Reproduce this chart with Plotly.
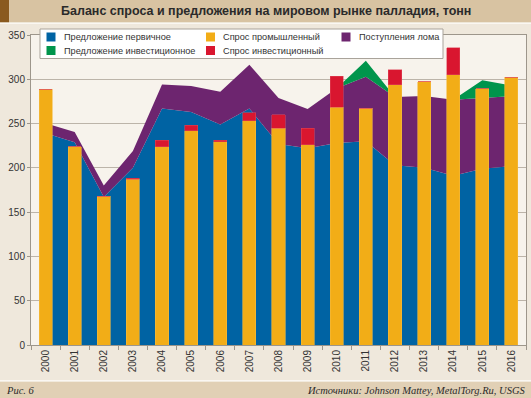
import plotly.graph_objects as go

# ---------------- data (tonnes) ----------------
years = ["2000", "2001", "2002", "2003", "2004", "2005", "2006", "2007", "2008",
         "2009", "2010", "2011", "2012", "2013", "2014", "2015", "2016"]
primary_supply = [239, 229, 167, 200, 267, 263, 249, 267, 227, 222, 228, 230, 203, 200, 191, 199, 202]
scrap_supply = [11.5, 11.5, 13, 19, 27, 29.5, 37, 49.5, 52, 44.5, 62, 73, 77, 81, 86, 80, 79]
investment_supply = [0, 0, 0, 0, 0, 0, 0, 0, 0, 0, 0, 18, 0, 0, 0, 20, 12]
industrial_demand = [289, 224, 168, 187, 224, 242, 229.5, 253, 245, 226, 268.5, 267.5, 294, 297.5, 305, 289.5, 302.5]
investment_demand = [0, 0, 0, 1.5, 7, 6, 1.5, 9.5, 15, 19, 35, 0, 16.5, 0, 30.5, 0, 0]

legend_names = ["Предложение первичное", "Предложение инвестиционное",
                "Спрос промышленный", "Спрос инвестиционный", "Поступления лома"]
title_text = "Баланс спроса и предложения на мировом рынке палладия, тонн"
fig_label = "Рис. 6"
source_text = "Источники: Johnson Mattey, MetalTorg.Ru, USGS"

# ---------------- style ----------------
BLUE = "#0063a3"
GREEN = "#00954c"
ORANGE = "#f2ad17"
RED = "#d9162f"
PURPLE = "#6d256f"
PAGE_BG = "#efe8dc"
PLOT_BG = "#f7f3ec"
GRID = "#bcb4a9"
AXIS = "#9d968b"
TXT = "#333333"

W, H = 531, 398
L, R, T, B = 31, 5, 35, 53
PW, PH = W - L - R, H - T - B


def px(x):
    return (x - L) / PW


def py(y):
    return (H - B - y) / PH


fig = go.Figure()

# supply areas (main axes, drawn below the bars)
fig.add_trace(go.Scatter(x=years, y=primary_supply, name=legend_names[0], stackgroup="s",
                         mode="lines", line=dict(width=0, color=BLUE), fillcolor=BLUE,
                         showlegend=False, xaxis="x", yaxis="y"))
fig.add_trace(go.Scatter(x=years, y=scrap_supply, name=legend_names[4], stackgroup="s",
                         mode="lines", line=dict(width=0, color=PURPLE), fillcolor=PURPLE,
                         showlegend=False, xaxis="x", yaxis="y"))
fig.add_trace(go.Scatter(x=years, y=investment_supply, name=legend_names[1], stackgroup="s",
                         mode="lines", line=dict(width=0, color=GREEN), fillcolor=GREEN,
                         showlegend=False, xaxis="x", yaxis="y"))

# demand bars (overlay axes, drawn above areas)
fig.add_trace(go.Bar(x=years, y=industrial_demand, name=legend_names[2], width=0.45,
                     marker=dict(color=ORANGE, line=dict(color="#f4bb40", width=0.6)),
                     showlegend=False, xaxis="x2", yaxis="y2"))
fig.add_trace(go.Bar(x=years, y=investment_demand, name=legend_names[3], width=0.45,
                     marker=dict(color=RED, line=dict(color="#e04a5c", width=0.5)),
                     showlegend=False, xaxis="x2", yaxis="y2"))

shapes = []
annotations = []

# title bar
shapes.append(dict(type="rect", xref="paper", yref="paper", x0=px(0), x1=px(W), y0=py(22.5), y1=py(0),
                   fillcolor="#d8c3a2", line=dict(width=0), layer="below"))
shapes.append(dict(type="rect", xref="paper", yref="paper", x0=px(0), x1=px(9), y0=py(22.5), y1=py(0),
                   fillcolor="#8a5a1f", line=dict(width=0), layer="below"))
shapes.append(dict(type="rect", xref="paper", yref="paper", x0=px(0), x1=px(W), y0=py(24), y1=py(22.5),
                   fillcolor="#faf7f2", line=dict(width=0), layer="below"))
# footer bar
shapes.append(dict(type="rect", xref="paper", yref="paper", x0=px(0), x1=px(W), y0=py(H), y1=py(381.5),
                   fillcolor="#e1d0b5", line=dict(width=0), layer="below"))
shapes.append(dict(type="rect", xref="paper", yref="paper", x0=px(0), x1=px(W), y0=py(381.5), y1=py(380),
                   fillcolor="#faf7f2", line=dict(width=0), layer="below"))

annotations.append(dict(text="<b>" + title_text + "</b>", xref="paper", yref="paper",
                        x=px(266), y=py(11.5), xanchor="center", yanchor="middle", showarrow=False,
                        font=dict(family="Liberation Sans, Arial", size=12.5, color="#2a2a2a")))
annotations.append(dict(text="<i>" + fig_label + "</i>", xref="paper", yref="paper",
                        x=px(4), y=py(390), xanchor="left", yanchor="middle", showarrow=False,
                        font=dict(family="Liberation Serif, Times New Roman", size=10.5, color="#2a2a2a")))
annotations.append(dict(text="<i>" + source_text + "</i>", xref="paper", yref="paper",
                        x=px(528), y=py(390), xanchor="right", yanchor="middle", showarrow=False,
                        font=dict(family="Liberation Serif, Times New Roman", size=10.5, color="#2a2a2a")))

# legend box (manual)
shapes.append(dict(type="rect", xref="paper", yref="paper", x0=px(40), x1=px(443), y0=py(58.5), y1=py(29),
                   fillcolor="#ffffff", line=dict(color="#a9a39a", width=1), layer="above"))
legend_items = [
    (legend_names[0], BLUE, 46.5, 32.5),
    (legend_names[1], GREEN, 46.5, 46),
    (legend_names[2], ORANGE, 206, 32.5),
    (legend_names[3], RED, 206, 46),
    (legend_names[4], PURPLE, 341.5, 32.5),
]
for name, col, mx, my in legend_items:
    shapes.append(dict(type="rect", xref="paper", yref="paper", x0=px(mx), x1=px(mx + 9),
                       y0=py(my + 9), y1=py(my), fillcolor=col, line=dict(width=0), layer="above"))
    annotations.append(dict(text=name, xref="paper", yref="paper", x=px(mx + 15), y=py(my + 4.5),
                            xanchor="left", yanchor="middle", showarrow=False,
                            font=dict(family="Liberation Sans, Arial", size=9.2, color=TXT)))

fig.update_layout(
    width=W, height=H,
    margin=dict(l=L, r=R, t=T, b=B, pad=0),
    paper_bgcolor=PAGE_BG, plot_bgcolor=PLOT_BG,
    barmode="stack", showlegend=False,
    font=dict(family="Liberation Sans, Arial", size=10, color=TXT),
    xaxis=dict(type="category", categoryorder="array", categoryarray=years, range=[-0.5, 16.5],
               tickson="boundaries", ticks="outside", ticklen=4, tickcolor=AXIS, tickangle=-90,
               tickfont=dict(size=10, color=TXT), showline=True, linecolor=AXIS, linewidth=1,
               mirror=True, showgrid=False, fixedrange=True),
    yaxis=dict(range=[0, 350], dtick=50, ticks="outside", ticklen=3, tickcolor=AXIS,
               tickfont=dict(size=10, color=TXT), showline=True, linecolor=AXIS, linewidth=1,
               mirror=True, showgrid=True, gridcolor=GRID, gridwidth=1, zeroline=False, fixedrange=True),
    xaxis2=dict(type="category", categoryorder="array", categoryarray=years, range=[-0.5, 16.5],
                overlaying="x", visible=False, fixedrange=True),
    yaxis2=dict(range=[0, 350], overlaying="y", visible=False, fixedrange=True),
    shapes=shapes,
    annotations=annotations,
)

fig.write_html(
    "out.html",
    config={"displayModeBar": False},
    post_script="document.body.style.margin='0';document.body.style.padding='0';"
                "document.body.style.overflow='hidden';",
)
